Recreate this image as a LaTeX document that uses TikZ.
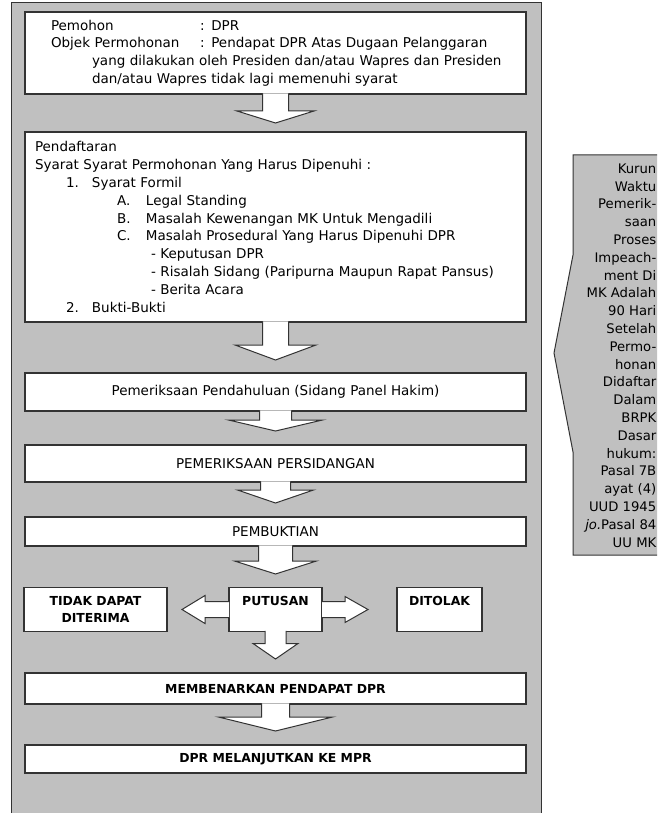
\documentclass[tikz,border=0pt]{standalone}
\usepackage{fontspec}
\setmainfont{DejaVu Sans}
\usetikzlibrary{calc}
\definecolor{panelgray}{HTML}{C0C0C0}
\definecolor{edgecol}{HTML}{333333}
\tikzset{
  basefont/.style={font=\fontsize{13.5}{17.8}\selectfont},
  sidefont/.style={font=\fontsize{13.2}{17.8}\selectfont},
  boldfont/.style={font=\fontsize{12.4}{17.8}\selectfont\bfseries},
  stepbox/.style={draw=edgecol, line width=1.1pt, fill=white, inner sep=0pt, outer sep=0pt},
  barrow/.style={draw=edgecol, line width=1pt, line join=miter},
  panel/.style={draw=edgecol, line width=1pt, fill=panelgray},
}
% down block arrow: node, shaft half width, head half width, head base offset, tip offset
\newcommand\blockdown[5]{%
  \fill[white] let \p1=(#1.south) in (\x1-#2pt,\y1+0.6pt) -- (\x1-#2pt,\y1-#4pt) -- (\x1-#3pt,\y1-#4pt) -- (\x1,\y1-#5pt) -- (\x1+#3pt,\y1-#4pt) -- (\x1+#2pt,\y1-#4pt) -- (\x1+#2pt,\y1+0.6pt) -- cycle;
  \draw[barrow] let \p1=(#1.south) in (\x1-#2pt,\y1+0.6pt) -- (\x1-#2pt,\y1-#4pt) -- (\x1-#3pt,\y1-#4pt) -- (\x1,\y1-#5pt) -- (\x1+#3pt,\y1-#4pt) -- (\x1+#2pt,\y1-#4pt) -- (\x1+#2pt,\y1+0.6pt);
}
% side block arrow: node.anchor, sign (+ or -), shaft half, head half, head base offset, tip offset
\newcommand\blockside[6]{%
  \filldraw[barrow, fill=white] let \p1=(#1) in (\x1,\y1+#3pt) -- (\x1#2#5pt,\y1+#3pt) -- (\x1#2#5pt,\y1+#4pt) -- (\x1#2#6pt,\y1) -- (\x1#2#5pt,\y1-#4pt) -- (\x1#2#5pt,\y1-#3pt) -- (\x1,\y1-#3pt);
}
\begin{document}
\begin{tikzpicture}[x=1pt,y=-1pt]
\useasboundingbox (0,0) rectangle (657,813);
\clip (0,0) rectangle (657,813);
% outer panel
\draw[panel] (11,3) rectangle (541,822);
% side callout
\draw[panel] (665,155) -- (573,155) -- (573,255) -- (554,353) -- (573,452) -- (573,555) -- (665,555);
\node[sidefont, anchor=north east, align=right, inner sep=0pt] (side) at (656.5,163.5)
 {Kurun\\Waktu\\Pemerik-\\saan\\Proses\\Impeach-\\ment Di\\MK Adalah\\90 Hari\\Setelah\\Permo-\\honan\\Didaftar\\Dalam\\BRPK\\Dasar\\hukum:\\Pasal 7B\\ayat (4)\\UUD 1945\\\textit{jo.}Pasal 84\\UU MK};

% main boxes
\node[stepbox, basefont, minimum width=501pt, minimum height=82pt, text width=481pt, inner xsep=10pt, align=left] (b1) at (275.5,53)
 {\hspace*{16pt}\makebox[149pt][l]{Pemohon}: DPR\\
  \hspace*{16pt}\makebox[149pt][l]{Objek Permohonan}\mbox{: Pendapat DPR Atas Dugaan Pelanggaran}\\
  \hspace*{57pt}\mbox{yang dilakukan oleh Presiden dan/atau Wapres dan Presiden}\\
  \hspace*{57pt}\mbox{dan/atau Wapres tidak lagi memenuhi syarat}};

\node[stepbox, basefont, minimum width=501pt, minimum height=190pt, text width=481pt, inner xsep=10pt, align=left] (b2) at (275.5,227)
 {Pendaftaran\\
  \mbox{Syarat Syarat Permohonan Yang Harus Dipenuhi :}\\
  \hspace*{31pt}\makebox[26pt][l]{1.}Syarat Formil\\
  \hspace*{82pt}\makebox[29pt][l]{A.}Legal Standing\\
  \hspace*{82pt}\makebox[29pt][l]{B.}\mbox{Masalah Kewenangan MK Untuk Mengadili}\\
  \hspace*{82pt}\makebox[29pt][l]{C.}\mbox{Masalah Prosedural Yang Harus Dipenuhi DPR}\\
  \hspace*{116pt}- Keputusan DPR\\
  \hspace*{116pt}\mbox{- Risalah Sidang (Paripurna Maupun Rapat Pansus)}\\
  \hspace*{116pt}- Berita Acara\\
  \hspace*{31pt}\makebox[26pt][l]{2.}Bukti-Bukti};

\node[stepbox, basefont, minimum width=501pt, minimum height=38pt] (b3) at (275.5,392) {Pemeriksaan Pendahuluan (Sidang Panel Hakim)};
\node[stepbox, basefont, minimum width=501pt, minimum height=37pt] (b4) at (275.5,463.5) {PEMERIKSAAN PERSIDANGAN};
\node[stepbox, basefont, minimum width=501pt, minimum height=29pt] (b5) at (275.5,531.5) {PEMBUKTIAN};

\node[stepbox, boldfont, minimum width=143pt, minimum height=44pt, align=center] (tidak) at (95.5,609.5) {TIDAK DAPAT\\DITERIMA};
\node[stepbox, boldfont, minimum width=93pt, minimum height=44pt, align=center] (putusan) at (275.5,609.5) {PUTUSAN\\\phantom{X}};
\node[stepbox, boldfont, minimum width=85pt, minimum height=44pt, align=center] (ditolak) at (439.5,609.5) {DITOLAK\\\phantom{X}};

\node[stepbox, boldfont, minimum width=501pt, minimum height=31pt] (b8) at (275.5,688.5) {MEMBENARKAN PENDAPAT DPR};
\node[stepbox, boldfont, minimum width=501pt, minimum height=28pt] (b9) at (275.5,759) {DPR MELANJUTKAN KE MPR};

% block arrows
\blockdown{b1}{13}{38.5}{17}{29}
\blockdown{b2}{13}{40.5}{23}{38}
\blockdown{b3}{16}{47}{9}{20}
\blockdown{b4}{15}{38}{8}{21}
\blockdown{b5}{17}{41}{15}{28}
\blockdown{putusan}{10.5}{22.5}{12}{27.5}
\blockdown{b8}{14}{57}{13}{27}
\blockside{putusan.west}{-}{8}{14}{24}{47}
\blockside{putusan.east}{+}{8}{13}{23}{46}
\end{tikzpicture}
\end{document}
